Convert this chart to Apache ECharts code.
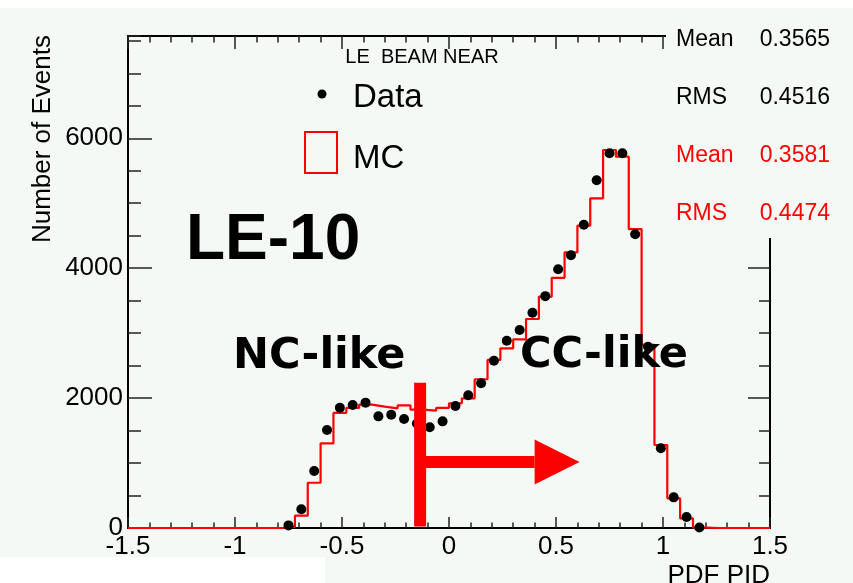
<!DOCTYPE html>
<html><head><meta charset="utf-8">
<script src="https://cdn.jsdelivr.net/npm/echarts@6/dist/echarts.min.js"></script>
<style>html,body{margin:0;padding:0;background:#fff}#c{width:853px;height:583px}</style>
</head><body><div id="c"></div>
<script>
// ---- data ----
const binLow = -1.5, binHigh = 1.5;
const mcCounts = [0,0,0,0,0,0,0,0,0,0,0,0,
  20,190,697,1304,1771,1848,1900,1870,1843,1889,1822,1806,1848,1920,1997,2290,2587,2767,2905,3218,3561,3852,4245,4655,5076,5820,5717,4603,2818,1278,457,149,5,
  0,0,0,0,0];
const dataCounts = [null,null,null,null,null,null,null,null,null,null,null,null,
  40,288,878,1509,1852,1894,1930,1719,1745,1678,1610,1550,1642,1878,2043,2228,2576,2884,3049,3315,3570,3985,4198,4670,5353,5769,5769,4522,2790,1227,472,169,8,
  null,null,null,null,null];
const yMax = 7575;
const statLabels = ['Mean','RMS','Mean','RMS'];
const statValues = ['0.3565','0.4516','0.3581','0.4474'];
const statColors = ['#000000','#000000','#ff0000','#ff0000'];
const legendTitle = 'LE  BEAM NEAR';
const legendNames = ['Data','MC'];
const cut = {x: -0.135, top: 2235, bottom: 25, arrowY: 1015, headBase: 0.40, tip: 0.61};

// ---- build ----
const nBins = mcCounts.length;
const bw = (binHigh - binLow) / nBins;
const mcStep = mcCounts.map((v, i) => [binLow + i * bw, v]);
mcStep.push([binHigh, mcCounts[nBins - 1]]);
const dataPts = [];
dataCounts.forEach((v, i) => { if (v !== null) dataPts.push([binLow + (i + 0.5) * bw, v]); });

const FF = "'Liberation Sans', Arial, Helvetica, sans-serif";
const BG = '#f5f9f6';
const tickStyle = {color: '#222', width: 1.5};
const axLine = {show: true, onZero: false, lineStyle: {color: '#000', width: 2}};
const noLine = {show: false, onZero: false};

const chart = echarts.init(document.getElementById('c'), null, {renderer: 'canvas'});
const option = {
  backgroundColor: BG,
  animation: false,
  grid: {left: 128, right: 83, top: 36, bottom: 55, containLabel: false},
  xAxis: [
    {type: 'value', min: binLow, max: binHigh, interval: 0.5, position: 'bottom',
     axisLine: axLine,
     axisTick: {show: true, inside: true, length: 11, lineStyle: tickStyle},
     minorTick: {show: true, splitNumber: 5, length: 5.5, lineStyle: tickStyle},
     axisLabel: {fontSize: 26, color: '#000', margin: 6, fontFamily: FF},
     splitLine: {show: false}, minorSplitLine: {show: false}},
    {type: 'value', min: binLow, max: binHigh, interval: 0.5, position: 'top',
     axisLine: axLine,
     axisTick: {show: true, inside: true, length: 13, lineStyle: tickStyle},
     minorTick: {show: true, splitNumber: 5, length: 6.5, lineStyle: tickStyle},
     axisLabel: {show: false}, splitLine: {show: false}}
  ],
  yAxis: [
    {type: 'value', min: 0, max: yMax, interval: 2000, position: 'left',
     axisLine: axLine,
     axisTick: {show: true, inside: true, length: 24, lineStyle: tickStyle},
     axisLabel: {fontSize: 26, color: '#000', margin: 5, fontFamily: FF, showMaxLabel: false,
                 formatter: v => String(v)},
     splitLine: {show: false}},
    {type: 'value', min: 0, max: yMax, interval: 500, position: 'left',
     axisLine: noLine,
     axisTick: {show: true, inside: true, length: 13, lineStyle: tickStyle},
     axisLabel: {show: false}, splitLine: {show: false}},
    {type: 'value', min: 0, max: yMax, interval: 2000, position: 'right',
     axisLine: axLine,
     axisTick: {show: true, inside: true, length: 22, lineStyle: tickStyle},
     axisLabel: {show: false}, splitLine: {show: false}},
    {type: 'value', min: 0, max: yMax, interval: 500, position: 'right',
     axisLine: noLine,
     axisTick: {show: true, inside: true, length: 11, lineStyle: tickStyle},
     axisLabel: {show: false}, splitLine: {show: false}}
  ],
  series: [
    {name: 'MC', type: 'line', step: 'end', data: mcStep, symbol: 'none', clip: false,
     lineStyle: {color: '#ff0000', width: 2.2}, z: 3},
    {name: 'Data', type: 'scatter', data: dataPts, symbol: 'circle', symbolSize: 10,
     itemStyle: {color: '#000', opacity: 1}, z: 4}
  ]
};
chart.setOption(option);

const P = (x, y) => chart.convertToPixel({gridIndex: 0}, [x, y]);
const pTop = P(cut.x, cut.top), pBot = P(cut.x, cut.bottom);
const pArrow = P(cut.x, cut.arrowY);
const pHead = P(cut.headBase, cut.arrowY), pTip = P(cut.tip, cut.arrowY);
const barW = 12, shaftH = 12, headHalf = 22.5;

const g = [
  {type: 'rect', z: -1, shape: {x: 0, y: 0, width: 853, height: 8}, style: {fill: '#ffffff'}},
  {type: 'rect', z: -1, shape: {x: 0, y: 557, width: 325, height: 26}, style: {fill: '#ffffff'}},
  {type: 'rect', z: 5, shape: {x: 666, y: 8, width: 187, height: 230}, style: {fill: BG}},
  // cut bar + arrow
  {type: 'rect', z: 10, shape: {x: pTop[0] - barW / 2, y: pTop[1], width: barW, height: pBot[1] - pTop[1]}, style: {fill: '#ff0000'}},
  {type: 'rect', z: 10, shape: {x: pArrow[0], y: pArrow[1] - shaftH / 2, width: pHead[0] - pArrow[0], height: shaftH}, style: {fill: '#ff0000'}},
  {type: 'polygon', z: 10, shape: {points: [[pHead[0], pHead[1] - headHalf], [pTip[0], pTip[1]], [pHead[0], pHead[1] + headHalf]]}, style: {fill: '#ff0000'}},
  // legend
  {type: 'text', z: 6, style: {text: legendTitle, x: 422, y: 57, align: 'center', verticalAlign: 'middle', font: '20px ' + FF, fill: '#000'}},
  {type: 'circle', z: 6, shape: {cx: 322, cy: 94, r: 4.5}, style: {fill: '#000'}},
  {type: 'text', z: 6, style: {text: legendNames[0], x: 353, y: 98, align: 'left', verticalAlign: 'middle', font: '33px ' + FF, fill: '#000'}},
  {type: 'rect', z: 6, shape: {x: 305, y: 132, width: 32, height: 41}, style: {fill: 'none', stroke: '#ff0000', lineWidth: 2}},
  {type: 'text', z: 6, style: {text: legendNames[1], x: 353, y: 159, align: 'left', verticalAlign: 'middle', font: '33px ' + FF, fill: '#000'}},
  // big labels
  {type: 'text', z: 12, style: {text: 'LE-10', x: 186, y: 241, align: 'left', verticalAlign: 'middle', font: 'bold 64px ' + FF, fill: '#000'}},
  {type: 'text', z: 12, style: {text: 'NC-like', x: 233, y: 357, align: 'left', verticalAlign: 'middle', font: "bold 43px 'DejaVu Sans', sans-serif", fill: '#000'}},
  {type: 'text', z: 12, style: {text: 'CC-like', x: 520, y: 356, align: 'left', verticalAlign: 'middle', font: "bold 43px 'DejaVu Sans', sans-serif", fill: '#000'}},
  // axis titles
  {type: 'text', z: 6, rotation: Math.PI / 2, x: 43, y: 35, style: {text: 'Number of Events', x: 0, y: 0, align: 'right', verticalAlign: 'middle', font: '26px ' + FF, fill: '#000'}},
  {type: 'text', z: 6, style: {text: 'PDF PID', x: 770, y: 563, align: 'right', verticalAlign: 'top', font: '26px ' + FF, fill: '#000'}}
];
const statY = [40, 98, 156, 214];
statLabels.forEach((t, i) => {
  g.push({type: 'text', z: 7, style: {text: t, x: 676, y: statY[i], align: 'left', verticalAlign: 'middle', font: '23px ' + FF, fill: statColors[i]}});
  g.push({type: 'text', z: 7, style: {text: statValues[i], x: 830, y: statY[i], align: 'right', verticalAlign: 'middle', font: '23px ' + FF, fill: statColors[i]}});
});
chart.setOption({graphic: {elements: g}});
</script>
</body></html>
